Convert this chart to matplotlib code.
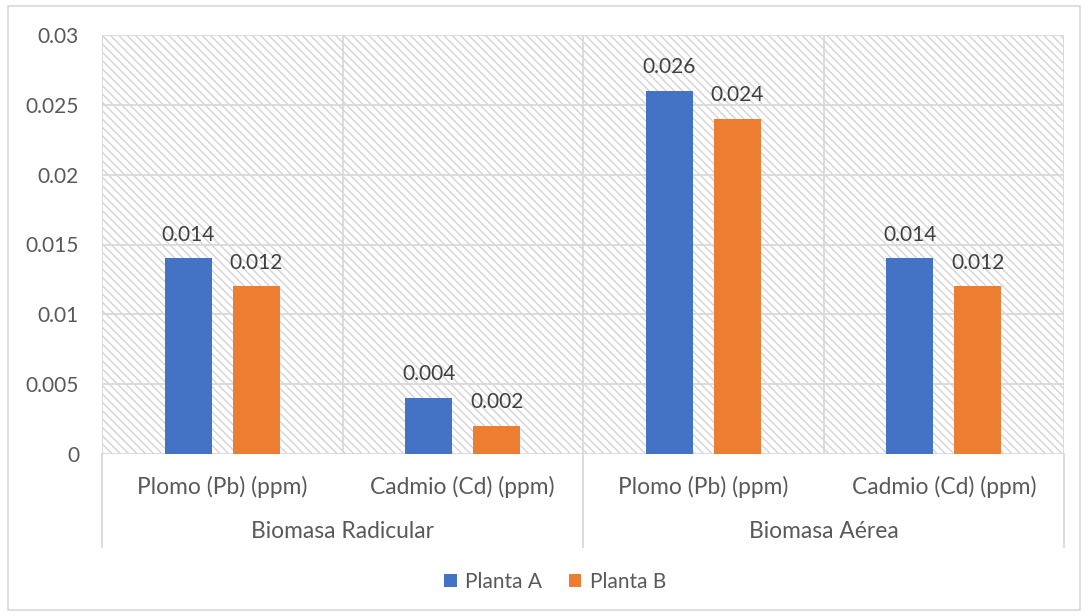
import matplotlib
matplotlib.use("Agg")
import matplotlib.pyplot as plt
from matplotlib.patches import Rectangle
from matplotlib.lines import Line2D
import numpy as np

categories = ["Plomo (Pb) (ppm)", "Cadmio (Cd) (ppm)", "Plomo (Pb) (ppm)", "Cadmio (Cd) (ppm)"]
groups = ["Biomasa Radicular", "Biomasa Aérea"]
planta_a = [0.014, 0.004, 0.026, 0.014]
planta_b = [0.012, 0.002, 0.024, 0.012]
yticks = [0, 0.005, 0.01, 0.015, 0.02, 0.025, 0.03]
ytick_labels = ["0", "0.005", "0.01", "0.015", "0.02", "0.025", "0.03"]

plt.rcParams['font.family'] = ['Lato', 'DejaVu Sans']
TXT = "#595959"
GRID = "#d9d9d9"
BLUE = "#4472C4"
ORANGE = "#ED7D31"
FS = 15
FS_CAT = 16.4

fig = plt.figure(figsize=(10.86, 6.16), dpi=100)
ax = fig.add_axes([102/1086, 1-454/616, (1064-102)/1086, (454-35)/616])

# figure border
fig.patches.append(Rectangle((8/1086, 1-610/616), (1080-8)/1086, (610-6)/616,
                             transform=fig.transFigure, fill=False, edgecolor=GRID, lw=1.2))

# hatched background
plt.rcParams['hatch.linewidth'] = 1.0
bg = Rectangle((0, 0), 1, 1, transform=ax.transAxes, facecolor="white",
               edgecolor="#d4d4d4", hatch="\\\\\\\\", lw=0, zorder=0)
ax.add_patch(bg)

x = np.arange(len(categories))
w = 0.195
off = 0.141
ba = ax.bar(x - off, planta_a, w, color=BLUE, label="Planta A", zorder=3)
bb = ax.bar(x + off, planta_b, w, color=ORANGE, label="Planta B", zorder=3)

for rects, vals in ((ba, planta_a), (bb, planta_b)):
    for r, v in zip(rects, vals):
        ax.annotate(f"{v:g}", (r.get_x() + r.get_width()/2, v), xytext=(0, 10),
                    textcoords="offset points", ha="center", va="bottom",
                    fontsize=FS, color="#404040", zorder=4)

ax.set_xlim(-0.5, 3.5)
ax.set_ylim(0, 0.03)
ax.set_yticks(yticks)
ax.set_yticklabels(ytick_labels)
ax.tick_params(axis='y', length=0, pad=16.5, labelsize=FS, labelcolor=TXT)
ax.set_xticks([])
for s in ax.spines.values():
    s.set_visible(False)

for yv in yticks:
    ax.axhline(yv, color=GRID, lw=1.3, zorder=1)
for xv in [-0.5, 0.5, 1.5, 2.5, 3.5]:
    ax.axvline(xv, color=GRID, lw=1.3, zorder=1)

# group separators below axis
ext = -(547-454)/(454-35)
for xa in [0, 0.5, 1]:
    ax.add_line(Line2D([xa, xa], [0, ext], transform=ax.transAxes, color=GRID,
                       lw=1.3, clip_on=False))

trans = ax.get_xaxis_transform()
cat_y = -(487-454)/(454-35)
grp_y = -(531-454)/(454-35)
for xi, c in zip(x, categories):
    ax.text(xi, cat_y, c, transform=trans, ha="center", va="center", fontsize=FS_CAT, color=TXT)
for gi, g in enumerate(groups):
    ax.text(gi*2 + 0.5, grp_y, g, transform=trans, ha="center", va="center", fontsize=FS_CAT, color=TXT)

fig.legend(handles=[ba, bb], labels=["Planta A", "Planta B"], loc="center",
           bbox_to_anchor=(555/1086, 1-582/616), ncol=2, frameon=False,
           fontsize=FS, labelcolor=TXT, handlelength=0.6, handleheight=0.6,
           handletextpad=0.4, columnspacing=1.3)

fig.savefig("out.png", dpi=100)
